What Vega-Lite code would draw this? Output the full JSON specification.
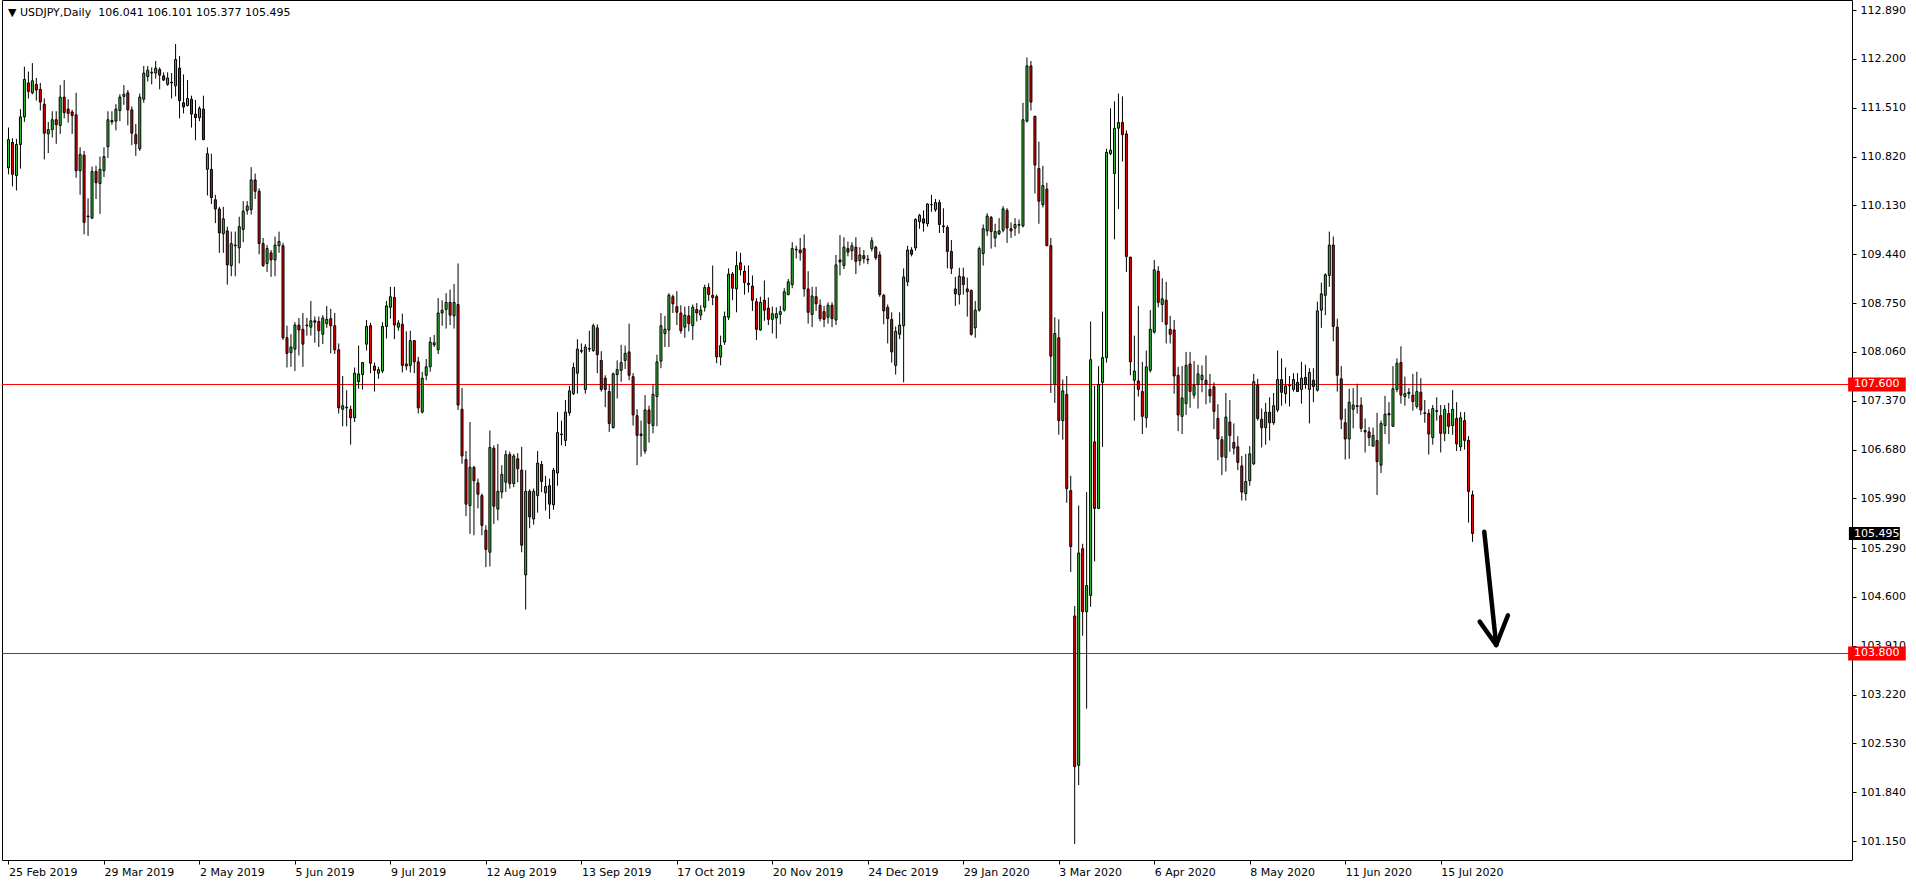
{
"$schema": "https://vega.github.io/schema/vega-lite/v6.json",
"width": 1850, "height": 860,
"autosize": {"type": "none"},
"padding": {"left": 2, "top": 0, "right": 64, "bottom": 24},
"background": "white",
"config": {
 "view": {"stroke": "black", "strokeWidth": 1},
 "axis": {"labelFont": "DejaVu Sans", "labelFontSize": 11, "labelColor": "black", "tickColor": "black", "tickSize": 4, "domain": false, "grid": false, "title": null, "labelOverlap": false, "labelFlush": false}
},
"datasets": {
 "bars": [
{"i":0,"o":110.66,"h":111.23,"l":110.57,"c":111.06},
{"i":1,"o":111.02,"h":111.08,"l":110.40,"c":110.57},
{"i":2,"o":110.55,"h":111.07,"l":110.34,"c":110.99},
{"i":3,"o":110.99,"h":111.49,"l":110.65,"c":111.38},
{"i":4,"o":111.38,"h":112.09,"l":111.31,"c":111.91},
{"i":5,"o":111.86,"h":112.02,"l":111.64,"c":111.74},
{"i":6,"o":111.72,"h":112.14,"l":111.70,"c":111.89},
{"i":7,"o":111.84,"h":111.93,"l":111.61,"c":111.76},
{"i":8,"o":111.77,"h":111.86,"l":111.47,"c":111.59},
{"i":9,"o":111.56,"h":111.64,"l":110.78,"c":111.15},
{"i":10,"o":111.14,"h":111.31,"l":110.87,"c":111.20},
{"i":11,"o":111.20,"h":111.46,"l":111.09,"c":111.34},
{"i":12,"o":111.34,"h":111.46,"l":111.00,"c":111.27},
{"i":13,"o":111.26,"h":111.83,"l":111.14,"c":111.66},
{"i":14,"o":111.66,"h":111.90,"l":111.36,"c":111.44},
{"i":15,"o":111.49,"h":111.63,"l":111.30,"c":111.43},
{"i":16,"o":111.45,"h":111.48,"l":111.14,"c":111.40},
{"i":17,"o":111.41,"h":111.72,"l":110.52,"c":110.62},
{"i":18,"o":110.62,"h":110.95,"l":110.28,"c":110.85},
{"i":19,"o":110.84,"h":110.90,"l":109.72,"c":109.89},
{"i":20,"o":109.98,"h":110.23,"l":109.70,"c":109.97},
{"i":21,"o":109.95,"h":110.68,"l":109.94,"c":110.61},
{"i":22,"o":110.61,"h":110.69,"l":110.22,"c":110.45},
{"i":23,"o":110.44,"h":110.82,"l":110.01,"c":110.64},
{"i":24,"o":110.62,"h":110.95,"l":110.53,"c":110.82},
{"i":25,"o":110.96,"h":111.46,"l":110.80,"c":111.34},
{"i":26,"o":111.33,"h":111.46,"l":111.27,"c":111.31},
{"i":27,"o":111.32,"h":111.56,"l":111.19,"c":111.49},
{"i":28,"o":111.47,"h":111.70,"l":111.32,"c":111.66},
{"i":29,"o":111.67,"h":111.83,"l":111.55,"c":111.70},
{"i":30,"o":111.72,"h":111.76,"l":111.26,"c":111.48},
{"i":31,"o":111.48,"h":111.53,"l":110.98,"c":111.15},
{"i":32,"o":111.13,"h":111.28,"l":110.83,"c":111.00},
{"i":33,"o":110.93,"h":111.71,"l":110.90,"c":111.66},
{"i":34,"o":111.63,"h":112.10,"l":111.58,"c":112.00},
{"i":35,"o":111.95,"h":112.10,"l":111.88,"c":112.04},
{"i":36,"o":112.00,"h":112.08,"l":111.84,"c":112.01},
{"i":37,"o":112.00,"h":112.17,"l":111.92,"c":112.07},
{"i":38,"o":112.05,"h":112.08,"l":111.77,"c":111.97},
{"i":39,"o":111.96,"h":112.01,"l":111.89,"c":111.90},
{"i":40,"o":111.84,"h":112.01,"l":111.82,"c":111.93},
{"i":41,"o":111.87,"h":112.00,"l":111.64,"c":111.86},
{"i":42,"o":111.82,"h":112.41,"l":111.67,"c":112.19},
{"i":43,"o":112.07,"h":112.24,"l":111.36,"c":111.61},
{"i":44,"o":111.58,"h":111.98,"l":111.43,"c":111.52},
{"i":45,"o":111.54,"h":111.90,"l":111.53,"c":111.64},
{"i":46,"o":111.63,"h":111.68,"l":111.23,"c":111.42},
{"i":47,"o":111.42,"h":111.62,"l":111.05,"c":111.37},
{"i":48,"o":111.37,"h":111.53,"l":111.32,"c":111.50},
{"i":49,"o":111.49,"h":111.68,"l":111.05,"c":111.06},
{"i":50,"o":110.64,"h":110.95,"l":110.27,"c":110.86},
{"i":51,"o":110.64,"h":110.86,"l":110.15,"c":110.24},
{"i":52,"o":110.21,"h":110.28,"l":109.88,"c":110.08},
{"i":53,"o":110.08,"h":110.11,"l":109.46,"c":109.74},
{"i":54,"o":109.73,"h":110.11,"l":109.46,"c":109.94},
{"i":55,"o":109.77,"h":109.83,"l":109.01,"c":109.29},
{"i":56,"o":109.28,"h":109.76,"l":109.13,"c":109.59},
{"i":57,"o":109.57,"h":109.76,"l":109.13,"c":109.56},
{"i":58,"o":109.53,"h":109.97,"l":109.31,"c":109.83},
{"i":59,"o":109.79,"h":110.19,"l":109.61,"c":110.05},
{"i":60,"o":110.06,"h":110.19,"l":110.00,"c":110.12},
{"i":61,"o":110.07,"h":110.67,"l":110.00,"c":110.49},
{"i":62,"o":110.49,"h":110.58,"l":110.22,"c":110.33},
{"i":63,"o":110.33,"h":110.37,"l":109.44,"c":109.59},
{"i":64,"o":109.59,"h":109.67,"l":109.26,"c":109.28},
{"i":65,"o":109.31,"h":109.57,"l":109.19,"c":109.52},
{"i":66,"o":109.46,"h":109.50,"l":109.12,"c":109.36},
{"i":67,"o":109.36,"h":109.69,"l":109.13,"c":109.57},
{"i":68,"o":109.56,"h":109.76,"l":109.46,"c":109.62},
{"i":69,"o":109.56,"h":109.60,"l":108.23,"c":108.26},
{"i":70,"o":108.26,"h":108.43,"l":107.84,"c":108.04},
{"i":71,"o":108.05,"h":108.31,"l":107.85,"c":108.13},
{"i":72,"o":108.10,"h":108.48,"l":107.79,"c":108.44},
{"i":73,"o":108.44,"h":108.54,"l":108.01,"c":108.37},
{"i":74,"o":108.38,"h":108.61,"l":107.85,"c":108.17},
{"i":75,"o":108.44,"h":108.54,"l":108.29,"c":108.43},
{"i":76,"o":108.41,"h":108.78,"l":108.29,"c":108.50},
{"i":77,"o":108.50,"h":108.56,"l":108.19,"c":108.48},
{"i":78,"o":108.49,"h":108.56,"l":108.13,"c":108.36},
{"i":79,"o":108.31,"h":108.58,"l":108.17,"c":108.54},
{"i":80,"o":108.46,"h":108.71,"l":108.40,"c":108.52},
{"i":81,"o":108.53,"h":108.67,"l":108.04,"c":108.43},
{"i":82,"o":108.43,"h":108.61,"l":108.03,"c":108.09},
{"i":83,"o":108.09,"h":108.18,"l":107.19,"c":107.27},
{"i":84,"o":107.25,"h":107.72,"l":107.01,"c":107.30},
{"i":85,"o":107.28,"h":107.52,"l":107.01,"c":107.27},
{"i":86,"o":107.25,"h":107.30,"l":106.75,"c":107.13},
{"i":87,"o":107.13,"h":107.84,"l":107.07,"c":107.76},
{"i":88,"o":107.64,"h":108.15,"l":107.54,"c":107.75},
{"i":89,"o":107.74,"h":107.92,"l":107.53,"c":107.91},
{"i":90,"o":108.17,"h":108.51,"l":108.08,"c":108.42},
{"i":91,"o":108.43,"h":108.47,"l":107.76,"c":107.90},
{"i":92,"o":107.86,"h":107.91,"l":107.50,"c":107.80},
{"i":93,"o":107.76,"h":107.85,"l":107.68,"c":107.81},
{"i":94,"o":107.79,"h":108.48,"l":107.76,"c":108.42},
{"i":95,"o":108.42,"h":108.78,"l":108.25,"c":108.71},
{"i":96,"o":108.69,"h":108.98,"l":108.53,"c":108.84},
{"i":97,"o":108.83,"h":108.98,"l":108.24,"c":108.44},
{"i":98,"o":108.41,"h":108.51,"l":108.36,"c":108.47},
{"i":99,"o":108.45,"h":108.60,"l":107.77,"c":107.87},
{"i":100,"o":107.86,"h":108.35,"l":107.80,"c":107.89},
{"i":101,"o":107.87,"h":108.36,"l":107.77,"c":108.22},
{"i":102,"o":108.22,"h":108.22,"l":107.76,"c":107.92},
{"i":103,"o":107.92,"h":107.99,"l":107.19,"c":107.27},
{"i":104,"o":107.21,"h":107.78,"l":107.19,"c":107.69},
{"i":105,"o":107.73,"h":107.96,"l":107.66,"c":107.85},
{"i":106,"o":107.85,"h":108.27,"l":107.78,"c":108.20},
{"i":107,"o":108.16,"h":108.30,"l":108.13,"c":108.19},
{"i":108,"o":108.09,"h":108.82,"l":108.03,"c":108.61},
{"i":109,"o":108.61,"h":108.79,"l":108.43,"c":108.65},
{"i":110,"o":108.66,"h":108.89,"l":108.39,"c":108.76},
{"i":111,"o":108.76,"h":108.94,"l":108.44,"c":108.58},
{"i":112,"o":108.57,"h":109.02,"l":108.39,"c":108.76},
{"i":113,"o":108.73,"h":109.31,"l":107.24,"c":107.31},
{"i":114,"o":107.25,"h":107.55,"l":106.48,"c":106.59},
{"i":115,"o":106.54,"h":106.66,"l":105.74,"c":105.91},
{"i":116,"o":105.89,"h":107.07,"l":105.49,"c":106.43},
{"i":117,"o":106.43,"h":106.45,"l":105.47,"c":106.24},
{"i":118,"o":106.21,"h":106.27,"l":105.85,"c":106.05},
{"i":119,"o":106.03,"h":106.06,"l":105.47,"c":105.61},
{"i":120,"o":105.54,"h":105.61,"l":105.02,"c":105.27},
{"i":121,"o":105.23,"h":106.95,"l":105.03,"c":106.71},
{"i":122,"o":106.70,"h":106.74,"l":105.63,"c":105.88},
{"i":123,"o":105.84,"h":106.76,"l":105.68,"c":106.09},
{"i":124,"o":106.08,"h":106.46,"l":105.99,"c":106.33},
{"i":125,"o":106.22,"h":106.67,"l":106.08,"c":106.61},
{"i":126,"o":106.61,"h":106.65,"l":106.13,"c":106.20},
{"i":127,"o":106.20,"h":106.62,"l":106.15,"c":106.59},
{"i":128,"o":106.55,"h":106.63,"l":106.22,"c":106.41},
{"i":129,"o":106.39,"h":106.72,"l":105.23,"c":105.33},
{"i":130,"o":104.91,"h":106.39,"l":104.42,"c":106.09},
{"i":131,"o":106.09,"h":106.12,"l":105.57,"c":105.73},
{"i":132,"o":105.70,"h":106.13,"l":105.62,"c":106.09},
{"i":133,"o":106.03,"h":106.66,"l":105.79,"c":106.49},
{"i":134,"o":106.47,"h":106.52,"l":106.08,"c":106.23},
{"i":135,"o":106.07,"h":106.31,"l":105.82,"c":106.16},
{"i":136,"o":106.17,"h":106.27,"l":105.70,"c":105.91},
{"i":137,"o":105.90,"h":106.42,"l":105.83,"c":106.39},
{"i":138,"o":106.35,"h":107.21,"l":106.17,"c":106.92},
{"i":139,"o":106.90,"h":107.09,"l":106.74,"c":106.89},
{"i":140,"o":106.81,"h":107.38,"l":106.73,"c":107.21},
{"i":141,"o":107.20,"h":107.58,"l":107.16,"c":107.51},
{"i":142,"o":107.47,"h":107.91,"l":107.45,"c":107.84},
{"i":143,"o":107.76,"h":108.24,"l":107.47,"c":108.10},
{"i":144,"o":108.08,"h":108.18,"l":108.04,"c":108.07},
{"i":145,"o":107.53,"h":108.17,"l":107.47,"c":108.13},
{"i":146,"o":108.10,"h":108.36,"l":108.06,"c":108.11},
{"i":147,"o":108.08,"h":108.46,"l":108.06,"c":108.43},
{"i":148,"o":108.40,"h":108.45,"l":107.76,"c":108.02},
{"i":149,"o":107.94,"h":108.07,"l":107.50,"c":107.53},
{"i":150,"o":107.69,"h":107.73,"l":107.28,"c":107.53},
{"i":151,"o":107.50,"h":107.60,"l":106.93,"c":107.05},
{"i":152,"o":106.99,"h":107.77,"l":106.98,"c":107.75},
{"i":153,"o":107.74,"h":107.94,"l":107.40,"c":107.81},
{"i":154,"o":107.80,"h":108.16,"l":107.64,"c":107.91},
{"i":155,"o":107.94,"h":108.15,"l":107.82,"c":108.04},
{"i":156,"o":108.06,"h":108.46,"l":107.66,"c":107.73},
{"i":157,"o":107.71,"h":107.76,"l":107.02,"c":107.17},
{"i":158,"o":107.16,"h":107.25,"l":106.46,"c":106.88},
{"i":159,"o":106.90,"h":107.09,"l":106.58,"c":106.88},
{"i":160,"o":106.66,"h":107.45,"l":106.62,"c":107.24},
{"i":161,"o":107.24,"h":107.30,"l":106.78,"c":107.05},
{"i":162,"o":107.02,"h":107.60,"l":106.91,"c":107.46},
{"i":163,"o":107.43,"h":108.02,"l":107.01,"c":107.92},
{"i":164,"o":107.93,"h":108.61,"l":107.83,"c":108.43},
{"i":165,"o":108.32,"h":108.57,"l":108.13,"c":108.38},
{"i":166,"o":108.37,"h":108.89,"l":108.13,"c":108.86},
{"i":167,"o":108.84,"h":108.87,"l":108.61,"c":108.74},
{"i":168,"o":108.70,"h":108.92,"l":108.44,"c":108.62},
{"i":169,"o":108.61,"h":108.72,"l":108.32,"c":108.36},
{"i":170,"o":108.41,"h":108.70,"l":108.26,"c":108.58},
{"i":171,"o":108.57,"h":108.71,"l":108.35,"c":108.46},
{"i":172,"o":108.43,"h":108.73,"l":108.23,"c":108.69},
{"i":173,"o":108.66,"h":108.75,"l":108.49,"c":108.61},
{"i":174,"o":108.58,"h":108.72,"l":108.51,"c":108.65},
{"i":175,"o":108.69,"h":109.01,"l":108.63,"c":108.97},
{"i":176,"o":108.97,"h":109.03,"l":108.78,"c":108.87},
{"i":177,"o":108.86,"h":109.28,"l":108.72,"c":108.83},
{"i":178,"o":108.84,"h":108.87,"l":107.90,"c":107.99},
{"i":179,"o":107.99,"h":108.29,"l":107.87,"c":108.15},
{"i":180,"o":108.20,"h":108.63,"l":108.16,"c":108.56},
{"i":181,"o":108.55,"h":109.24,"l":108.51,"c":109.16},
{"i":182,"o":109.16,"h":109.19,"l":108.79,"c":108.96},
{"i":183,"o":108.95,"h":109.48,"l":108.62,"c":109.28},
{"i":184,"o":109.32,"h":109.46,"l":109.14,"c":109.22},
{"i":185,"o":109.20,"h":109.28,"l":108.87,"c":109.04},
{"i":186,"o":109.03,"h":109.28,"l":108.90,"c":109.01},
{"i":187,"o":108.99,"h":109.14,"l":108.64,"c":108.79},
{"i":188,"o":108.77,"h":108.82,"l":108.23,"c":108.38},
{"i":189,"o":108.37,"h":108.84,"l":108.36,"c":108.76},
{"i":190,"o":108.79,"h":109.07,"l":108.50,"c":108.65},
{"i":191,"o":108.68,"h":108.83,"l":108.44,"c":108.52},
{"i":192,"o":108.52,"h":108.70,"l":108.32,"c":108.60},
{"i":193,"o":108.54,"h":108.69,"l":108.25,"c":108.60},
{"i":194,"o":108.59,"h":108.71,"l":108.45,"c":108.63},
{"i":195,"o":108.65,"h":108.96,"l":108.63,"c":108.91},
{"i":196,"o":108.87,"h":109.09,"l":108.86,"c":109.05},
{"i":197,"o":109.01,"h":109.61,"l":108.96,"c":109.52},
{"i":198,"o":109.50,"h":109.56,"l":109.38,"c":109.51},
{"i":199,"o":109.50,"h":109.67,"l":109.35,"c":109.46},
{"i":200,"o":109.52,"h":109.72,"l":108.84,"c":108.95},
{"i":201,"o":108.95,"h":109.20,"l":108.46,"c":108.62},
{"i":202,"o":108.59,"h":108.98,"l":108.41,"c":108.85},
{"i":203,"o":108.84,"h":108.98,"l":108.64,"c":108.74},
{"i":204,"o":108.72,"h":108.80,"l":108.49,"c":108.53},
{"i":205,"o":108.63,"h":108.71,"l":108.41,"c":108.52},
{"i":206,"o":108.55,"h":108.76,"l":108.46,"c":108.72},
{"i":207,"o":108.72,"h":108.76,"l":108.41,"c":108.53},
{"i":208,"o":108.51,"h":109.43,"l":108.44,"c":109.29},
{"i":209,"o":109.36,"h":109.71,"l":109.14,"c":109.33},
{"i":210,"o":109.28,"h":109.68,"l":109.23,"c":109.54},
{"i":211,"o":109.52,"h":109.62,"l":109.41,"c":109.47},
{"i":212,"o":109.49,"h":109.61,"l":109.36,"c":109.56},
{"i":213,"o":109.54,"h":109.68,"l":109.16,"c":109.34},
{"i":214,"o":109.35,"h":109.54,"l":109.28,"c":109.43},
{"i":215,"o":109.42,"h":109.50,"l":109.31,"c":109.38},
{"i":216,"o":109.37,"h":109.43,"l":109.30,"c":109.36},
{"i":217,"o":109.52,"h":109.68,"l":109.48,"c":109.63},
{"i":218,"o":109.54,"h":109.56,"l":109.36,"c":109.39},
{"i":219,"o":109.43,"h":109.48,"l":108.84,"c":108.87},
{"i":220,"o":108.86,"h":108.88,"l":108.45,"c":108.64},
{"i":221,"o":108.69,"h":108.73,"l":108.18,"c":108.53},
{"i":222,"o":108.52,"h":108.62,"l":107.91,"c":108.06},
{"i":223,"o":107.87,"h":108.42,"l":107.74,"c":108.35},
{"i":224,"o":108.31,"h":108.62,"l":108.24,"c":108.44},
{"i":225,"o":108.43,"h":109.24,"l":107.63,"c":109.12},
{"i":226,"o":109.05,"h":109.56,"l":108.99,"c":109.50},
{"i":227,"o":109.50,"h":109.54,"l":109.41,"c":109.44},
{"i":228,"o":109.53,"h":109.95,"l":109.49,"c":109.93},
{"i":229,"o":109.90,"h":110.01,"l":109.80,"c":109.99},
{"i":230,"o":109.94,"h":110.06,"l":109.76,"c":109.88},
{"i":231,"o":109.87,"h":110.16,"l":109.83,"c":110.15},
{"i":232,"o":110.14,"h":110.28,"l":110.04,"c":110.14},
{"i":233,"o":110.07,"h":110.22,"l":110.04,"c":110.17},
{"i":234,"o":110.17,"h":110.21,"l":109.74,"c":109.86},
{"i":235,"o":109.84,"h":110.09,"l":109.74,"c":109.83},
{"i":236,"o":109.82,"h":109.85,"l":109.24,"c":109.48},
{"i":237,"o":109.48,"h":109.64,"l":109.16,"c":109.24},
{"i":238,"o":108.95,"h":109.12,"l":108.71,"c":108.88},
{"i":239,"o":108.87,"h":109.25,"l":108.73,"c":109.13},
{"i":240,"o":109.12,"h":109.25,"l":108.87,"c":109.01},
{"i":241,"o":108.95,"h":109.11,"l":108.56,"c":108.91},
{"i":242,"o":108.93,"h":108.94,"l":108.29,"c":108.31},
{"i":243,"o":108.40,"h":108.78,"l":108.26,"c":108.65},
{"i":244,"o":108.65,"h":109.55,"l":108.63,"c":109.52},
{"i":245,"o":109.45,"h":109.86,"l":109.28,"c":109.80},
{"i":246,"o":109.77,"h":110.02,"l":109.70,"c":109.98},
{"i":247,"o":109.96,"h":109.98,"l":109.52,"c":109.76},
{"i":248,"o":109.67,"h":109.87,"l":109.54,"c":109.76},
{"i":249,"o":109.73,"h":109.95,"l":109.71,"c":109.77},
{"i":250,"o":109.78,"h":110.12,"l":109.75,"c":110.08},
{"i":251,"o":110.06,"h":110.09,"l":109.60,"c":109.81},
{"i":252,"o":109.80,"h":109.89,"l":109.67,"c":109.77},
{"i":253,"o":109.81,"h":109.95,"l":109.70,"c":109.86},
{"i":254,"o":109.85,"h":109.93,"l":109.73,"c":109.86},
{"i":255,"o":109.84,"h":111.58,"l":109.82,"c":111.34},
{"i":256,"o":111.32,"h":112.22,"l":111.30,"c":112.10},
{"i":257,"o":112.10,"h":112.17,"l":111.47,"c":111.59},
{"i":258,"o":111.39,"h":111.39,"l":110.30,"c":110.70},
{"i":259,"o":110.65,"h":111.03,"l":109.87,"c":110.19},
{"i":260,"o":110.14,"h":110.69,"l":110.10,"c":110.41},
{"i":261,"o":110.36,"h":110.45,"l":109.56,"c":109.56},
{"i":262,"o":109.56,"h":109.67,"l":107.48,"c":108.00},
{"i":263,"o":107.60,"h":108.55,"l":107.34,"c":108.32},
{"i":264,"o":108.26,"h":108.52,"l":106.89,"c":107.09},
{"i":265,"o":107.09,"h":107.67,"l":106.82,"c":107.51},
{"i":266,"o":107.46,"h":107.72,"l":105.93,"c":106.13},
{"i":267,"o":106.10,"h":106.31,"l":104.95,"c":105.31},
{"i":268,"o":104.33,"h":104.47,"l":101.11,"c":102.20},
{"i":269,"o":102.22,"h":105.89,"l":101.94,"c":105.22},
{"i":270,"o":105.28,"h":105.35,"l":104.05,"c":104.39},
{"i":271,"o":104.39,"h":106.08,"l":103.02,"c":104.76},
{"i":272,"o":104.62,"h":108.49,"l":104.46,"c":107.95},
{"i":273,"o":106.79,"h":107.58,"l":105.10,"c":105.85},
{"i":274,"o":105.85,"h":107.86,"l":105.84,"c":107.60},
{"i":275,"o":107.63,"h":108.63,"l":106.72,"c":107.98},
{"i":276,"o":107.98,"h":110.93,"l":107.91,"c":110.88},
{"i":277,"o":110.86,"h":111.50,"l":110.84,"c":110.91},
{"i":278,"o":110.58,"h":111.60,"l":109.65,"c":111.22},
{"i":279,"o":111.22,"h":111.71,"l":110.08,"c":111.30},
{"i":280,"o":111.30,"h":111.67,"l":110.75,"c":111.13},
{"i":281,"o":111.14,"h":111.19,"l":109.19,"c":109.41},
{"i":282,"o":109.40,"h":109.40,"l":107.73,"c":107.92},
{"i":283,"o":107.66,"h":108.29,"l":107.09,"c":107.79},
{"i":284,"o":107.65,"h":108.71,"l":107.43,"c":107.53},
{"i":285,"o":107.50,"h":107.92,"l":106.90,"c":107.15},
{"i":286,"o":107.13,"h":108.08,"l":106.99,"c":107.85},
{"i":287,"o":107.80,"h":108.65,"l":107.77,"c":108.38},
{"i":288,"o":108.34,"h":109.36,"l":108.32,"c":109.22},
{"i":289,"o":109.20,"h":109.27,"l":108.69,"c":108.76},
{"i":290,"o":108.73,"h":109.10,"l":108.48,"c":108.81},
{"i":291,"o":108.79,"h":109.05,"l":108.18,"c":108.45},
{"i":292,"o":108.38,"h":108.57,"l":108.18,"c":108.31},
{"i":293,"o":108.37,"h":108.51,"l":107.47,"c":107.72},
{"i":294,"o":107.73,"h":107.85,"l":106.94,"c":107.17},
{"i":295,"o":107.15,"h":107.86,"l":106.90,"c":107.41},
{"i":296,"o":107.33,"h":108.06,"l":107.17,"c":107.87},
{"i":297,"o":107.89,"h":108.06,"l":107.27,"c":107.50},
{"i":298,"o":107.45,"h":107.93,"l":107.40,"c":107.59},
{"i":299,"o":107.60,"h":107.88,"l":107.26,"c":107.75},
{"i":300,"o":107.67,"h":107.87,"l":107.49,"c":107.73},
{"i":301,"o":107.66,"h":108.01,"l":107.32,"c":107.60},
{"i":302,"o":107.53,"h":107.75,"l":107.34,"c":107.44},
{"i":303,"o":107.57,"h":107.63,"l":106.97,"c":107.22},
{"i":304,"o":107.12,"h":107.32,"l":106.53,"c":106.83},
{"i":305,"o":106.82,"h":106.87,"l":106.32,"c":106.58},
{"i":306,"o":106.57,"h":107.48,"l":106.37,"c":107.14},
{"i":307,"o":107.07,"h":107.38,"l":106.65,"c":106.88},
{"i":308,"o":106.78,"h":107.05,"l":106.61,"c":106.70},
{"i":309,"o":106.72,"h":106.87,"l":106.39,"c":106.50},
{"i":310,"o":106.45,"h":106.59,"l":105.96,"c":106.08},
{"i":311,"o":106.06,"h":106.62,"l":105.96,"c":106.23},
{"i":312,"o":106.24,"h":106.73,"l":106.17,"c":106.62},
{"i":313,"o":106.48,"h":107.75,"l":106.46,"c":107.64},
{"i":314,"o":107.59,"h":107.68,"l":107.09,"c":107.12},
{"i":315,"o":107.11,"h":107.26,"l":106.71,"c":106.99},
{"i":316,"o":106.99,"h":107.34,"l":106.75,"c":107.21},
{"i":317,"o":107.21,"h":107.42,"l":106.81,"c":107.06},
{"i":318,"o":107.06,"h":107.48,"l":107.03,"c":107.30},
{"i":319,"o":107.24,"h":108.08,"l":107.21,"c":107.67},
{"i":320,"o":107.67,"h":107.97,"l":107.30,"c":107.49},
{"i":321,"o":107.47,"h":107.84,"l":107.33,"c":107.58},
{"i":322,"o":107.58,"h":107.72,"l":107.29,"c":107.59},
{"i":323,"o":107.53,"h":107.76,"l":107.50,"c":107.67},
{"i":324,"o":107.63,"h":107.76,"l":107.50,"c":107.50},
{"i":325,"o":107.53,"h":107.92,"l":107.33,"c":107.69},
{"i":326,"o":107.70,"h":107.88,"l":107.54,"c":107.60},
{"i":327,"o":107.53,"h":107.83,"l":107.05,"c":107.77},
{"i":328,"o":107.66,"h":107.83,"l":107.35,"c":107.57},
{"i":329,"o":107.52,"h":108.77,"l":107.50,"c":108.64},
{"i":330,"o":108.65,"h":109.04,"l":108.40,"c":108.88},
{"i":331,"o":108.86,"h":109.17,"l":108.58,"c":109.15},
{"i":332,"o":109.14,"h":109.76,"l":108.98,"c":109.57},
{"i":333,"o":109.57,"h":109.69,"l":108.21,"c":108.42},
{"i":334,"o":108.41,"h":108.53,"l":107.50,"c":107.73},
{"i":335,"o":107.68,"h":107.86,"l":106.97,"c":107.11},
{"i":336,"o":107.06,"h":107.26,"l":106.54,"c":106.83},
{"i":337,"o":106.83,"h":107.54,"l":106.55,"c":107.35},
{"i":338,"o":107.25,"h":107.55,"l":106.98,"c":107.31},
{"i":339,"o":107.30,"h":107.61,"l":107.19,"c":107.29},
{"i":340,"o":107.31,"h":107.42,"l":106.93,"c":106.98},
{"i":341,"o":106.95,"h":107.12,"l":106.64,"c":106.93},
{"i":342,"o":106.93,"h":107.00,"l":106.73,"c":106.85},
{"i":343,"o":106.73,"h":106.99,"l":106.72,"c":106.88},
{"i":344,"o":106.81,"h":107.20,"l":106.04,"c":106.51},
{"i":345,"o":106.46,"h":107.09,"l":106.35,"c":107.05},
{"i":346,"o":107.02,"h":107.44,"l":106.90,"c":107.18},
{"i":347,"o":107.17,"h":107.35,"l":106.76,"c":107.19},
{"i":348,"o":107.01,"h":107.86,"l":107.00,"c":107.54},
{"i":349,"o":107.53,"h":107.97,"l":107.49,"c":107.90},
{"i":350,"o":107.91,"h":108.14,"l":107.33,"c":107.45},
{"i":351,"o":107.43,"h":107.71,"l":107.30,"c":107.47},
{"i":352,"o":107.47,"h":107.55,"l":107.40,"c":107.49},
{"i":353,"o":107.45,"h":107.75,"l":107.23,"c":107.36},
{"i":354,"o":107.29,"h":107.78,"l":107.26,"c":107.50},
{"i":355,"o":107.49,"h":107.69,"l":107.17,"c":107.24},
{"i":356,"o":107.20,"h":107.38,"l":107.06,"c":107.19},
{"i":357,"o":107.19,"h":107.25,"l":106.61,"c":106.90},
{"i":358,"o":106.85,"h":107.31,"l":106.75,"c":107.26},
{"i":359,"o":107.23,"h":107.42,"l":107.09,"c":107.22},
{"i":360,"o":107.16,"h":107.31,"l":106.64,"c":106.91},
{"i":361,"o":106.91,"h":107.31,"l":106.80,"c":107.25},
{"i":362,"o":107.19,"h":107.34,"l":106.90,"c":107.01},
{"i":363,"o":107.02,"h":107.52,"l":106.89,"c":107.25},
{"i":364,"o":107.12,"h":107.35,"l":106.66,"c":106.76},
{"i":365,"o":106.72,"h":107.21,"l":106.66,"c":107.13},
{"i":366,"o":107.09,"h":107.21,"l":106.68,"c":106.81},
{"i":367,"o":106.81,"h":106.87,"l":105.65,"c":106.09},
{"i":368,"o":106.041,"h":106.101,"l":105.377,"c":105.495}
 ],
 "levels": [{"p": 107.6, "t": "107.600"}, {"p": 103.8, "t": "103.800"}],
 "bid": [{"p": 105.495, "t": "105.495"}],
 "arrow": [
  {"ax": 370.95, "ay": 105.52, "bx": 373.95, "by": 103.92},
  {"ax": 369.8, "ay": 104.25, "bx": 373.95, "by": 103.92},
  {"ax": 376.9, "ay": 104.34, "bx": 373.95, "by": 103.92}
 ],
 "head": [{"t": "▼ USDJPY,Daily\u00a0 106.041 106.101 105.377 105.495"}]
},
"layer": [
 {
  "data": {"name": "levels"},
  "mark": {"type": "rule", "color": "#ff0000", "strokeWidth": 1},
  "encoding": {
   "y": {"field": "p", "type": "quantitative", "scale": {"domain": [100.8828, 113.0316], "nice": false, "zero": false},
         "axis": {"orient": "right", "values": [112.89,112.2,111.51,110.82,110.13,109.44,108.75,108.06,107.37,106.68,105.99,105.29,104.6,103.91,103.22,102.53,101.84,101.15], "format": ".3f", "labelPadding": 4, "labelBaseline": "middle"}}
  }
 },
 {
  "data": {"name": "bars"},
  "mark": {"type": "rule", "color": "black", "strokeWidth": 1},
  "encoding": {
   "x": {"field": "i", "type": "quantitative", "scale": {"domain": [-0.375, 462.125], "nice": false, "zero": false},
         "axis": {"values": [0,24,48,72,96,120,144,168,192,216,240,264,288,312,336,360],
                  "labelExpr": "['25 Feb 2019','29 Mar 2019','2 May 2019','5 Jun 2019','9 Jul 2019','12 Aug 2019','13 Sep 2019','17 Oct 2019','20 Nov 2019','24 Dec 2019','29 Jan 2020','3 Mar 2020','6 Apr 2020','8 May 2020','11 Jun 2020','15 Jul 2020'][round(datum.value/24)]",
                  "labelAlign": "left", "labelBaseline": "top", "labelPadding": 2}},
   "y": {"field": "l", "type": "quantitative"},
   "y2": {"field": "h"}
  }
 },
 {
  "data": {"name": "bars"},
  "mark": {"type": "bar", "width": 2, "stroke": "black", "strokeWidth": 1, "orient": "vertical"},
  "encoding": {
   "x": {"field": "i", "type": "quantitative"},
   "y": {"field": "o", "type": "quantitative"},
   "y2": {"field": "c"},
   "fill": {"condition": {"test": "datum.c >= datum.o", "value": "#33c433"}, "value": "#f00000"}
  }
 },
 {
  "data": {"name": "arrow"},
  "mark": {"type": "rule", "color": "black", "strokeWidth": 4.5, "strokeCap": "round"},
  "encoding": {
   "x": {"field": "ax", "type": "quantitative"},
   "y": {"field": "ay", "type": "quantitative"},
   "x2": {"field": "bx"},
   "y2": {"field": "by"}
  }
 },
 {
  "data": {"name": "levels"},
  "mark": {"type": "rule", "color": "#ff0000", "strokeWidth": 14, "strokeCap": "butt"},
  "encoding": {
   "x": {"datum": 462.4, "type": "quantitative"},
   "x2": {"datum": 476.9},
   "y": {"field": "p", "type": "quantitative"}
  }
 },
 {
  "data": {"name": "bid"},
  "mark": {"type": "rule", "color": "black", "strokeWidth": 13, "strokeCap": "butt"},
  "encoding": {
   "x": {"datum": 462.6, "type": "quantitative"},
   "x2": {"datum": 475.4},
   "y": {"field": "p", "type": "quantitative"}
  }
 },
 {
  "data": {"name": "levels"},
  "mark": {"type": "text", "color": "white", "align": "left", "baseline": "middle", "font": "DejaVu Sans", "fontSize": 11},
  "encoding": {
   "x": {"datum": 463.9, "type": "quantitative"},
   "y": {"field": "p", "type": "quantitative"},
   "text": {"field": "t"}
  }
 },
 {
  "data": {"name": "bid"},
  "mark": {"type": "text", "color": "white", "align": "left", "baseline": "middle", "font": "DejaVu Sans", "fontSize": 11},
  "encoding": {
   "x": {"datum": 463.9, "type": "quantitative"},
   "y": {"field": "p", "type": "quantitative"},
   "text": {"field": "t"}
  }
 },
 {
  "data": {"name": "head"},
  "mark": {"type": "text", "color": "black", "align": "left", "baseline": "alphabetic", "font": "DejaVu Sans", "fontSize": 11, "dx": 1, "dy": 16},
  "encoding": {
   "x": {"datum": -0.375, "type": "quantitative"},
   "y": {"datum": 113.0316, "type": "quantitative"},
   "text": {"field": "t"}
  }
 }
]
}
